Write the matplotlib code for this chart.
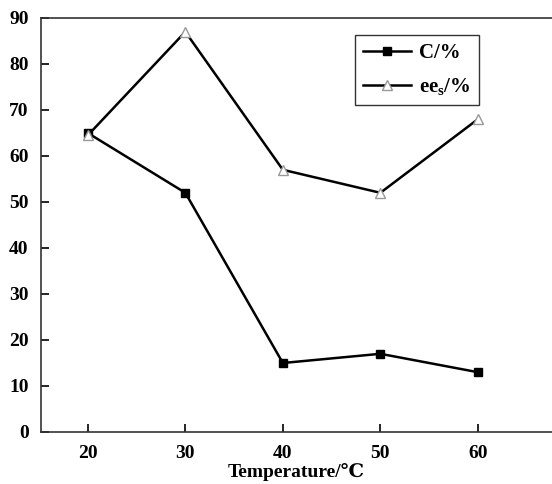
import numpy as np
import matplotlib
matplotlib.use("Agg")
import matplotlib.pyplot as plt

# data
temps = [20, 30, 40, 50, 60]
conv = [65, 52, 15, 17, 13]
ees = [64.5, 87, 57, 52, 68]

plt.rcParams['font.family'] = ['Liberation Serif', 'DejaVu Serif']
plt.rcParams['font.weight'] = 'bold'
plt.rcParams['mathtext.fontset'] = 'custom'
plt.rcParams['mathtext.rm'] = 'Liberation Serif:bold'
plt.rcParams['mathtext.it'] = 'Liberation Serif:bold'

fig = plt.figure(figsize=(5.52, 4.84), dpi=100)
ax = fig.add_axes([41 / 552, 52 / 484, 1 - 41 / 552, (432 - 18) / 484])

ax.plot(temps, conv, color='black', lw=1.8, marker='s', ms=5.5,
        mfc='black', mec='black', label='C/%')
ax.plot(temps, ees, color='black', lw=1.8, marker='^', ms=7.5,
        mfc='white', mec='#999999', mew=1, label=r'ee$_\mathrm{s}$/%')

ax.set_xlim(15.2, 67.6)
ax.set_ylim(0, 90)
ax.set_xticks(temps)
ax.set_yticks(np.arange(0, 91, 10))
ax.tick_params(direction='in', length=6, width=1.2, labelsize=14, pad=9)
ax.tick_params(axis='y', pad=9)
for lab in ax.get_xticklabels() + ax.get_yticklabels():
    lab.set_fontweight('bold')

ax.spines['right'].set_visible(False)
for s in ['left', 'bottom', 'top']:
    ax.spines[s].set_linewidth(1.2)
    ax.spines[s].set_color('#333333')

ax.set_xlabel('Temperature/℃', fontsize=14, fontweight='bold', labelpad=1)

leg = ax.legend(loc='upper left', bbox_to_anchor=(0.614, 0.959),
                borderaxespad=0, frameon=True, fancybox=False,
                edgecolor='black', handlelength=2.3, handletextpad=0.4,
                borderpad=0.4, labelspacing=0.6,
                prop={'weight': 'bold', 'size': 15})
leg.get_frame().set_linewidth(1.0)

fig.savefig('out.png', dpi=100)
